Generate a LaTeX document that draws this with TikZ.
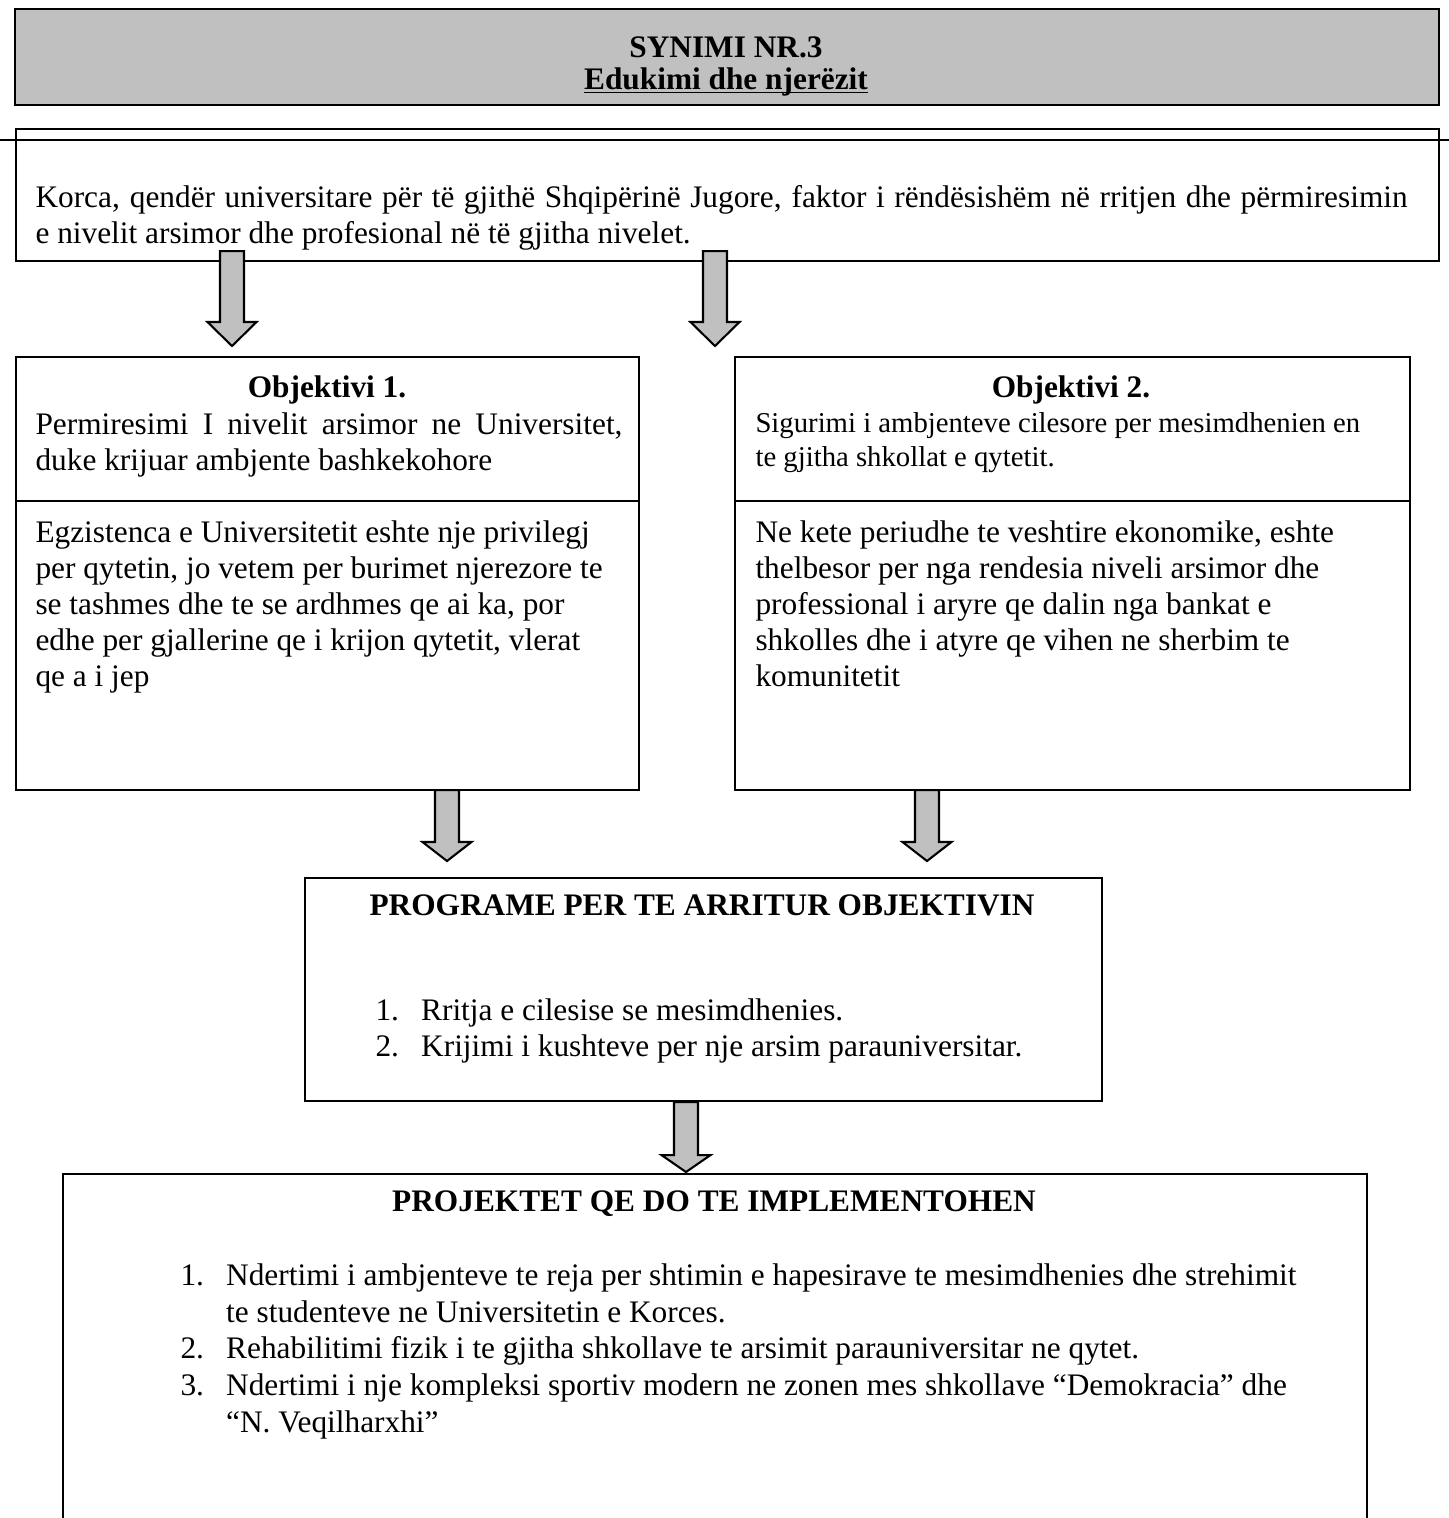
\documentclass[tikz,border=0pt]{standalone}
\usepackage{fontspec}
\setmainfont{Liberation Serif}
\usetikzlibrary{calc,positioning}
\definecolor{boxgray}{HTML}{C0C0C0}
\def\px{0.383pt}
\tikzset{%
  box/.style={draw, line width=0.8pt, inner sep=0pt, anchor=north west},%
  para/.style={inner sep=0pt, anchor=north west, align=left,
    font=\fontsize{12}{13.8}\selectfont},%
  headline/.style={inner sep=0pt, anchor=base,
    font=\fontsize{12}{13.8}\selectfont\bfseries},%
  bigarrow/.style={draw, line width=0.8pt, fill=boxgray, line join=miter}%
}
% block arrow: start, tip, head length
\newcommand\flowarrow[3]{%
  \draw[bigarrow] let \p1=#1, \p2=#2 in
    (\x1-4.6pt,\y1) -- (\x1+4.6pt,\y1) -- (\x1+4.6pt,\y2+#3) -- (\x1+9.4pt,\y2+#3)
    -- (\x1,\y2) -- (\x1-9.4pt,\y2+#3) -- (\x1-4.6pt,\y2+#3) -- cycle;
}
\newcommand\itemno[1]{\makebox[17.5pt][l]{#1}}

\begin{document}
\begin{tikzpicture}[x=0.383pt, y=-0.383pt]
	\useasboundingbox (0,0) rectangle (1449,1518);
	
	%% title banner
	\node[box, fill=boxgray, minimum width=1424*\px, minimum height=96*\px] (banner) at (14,8) {};
	\node[headline] (synimi) at (726,57) {SYNIMI NR.3};
	\node[headline] (theme) at (726,89) {\underline{\smash{Edukimi dhe njerëzit}}};
	
	%% vision
	\node[box, minimum width=1423*\px, minimum height=132*\px] (vision) at (15,128) {};
	\draw[line width=0.8pt] (0,140) -- (1449,140);
	\node[para] (visiontext) at (35,185) {\makebox[525.5pt][s]{Korca, qendër universitare për të gjithë Shqipërinë Jugore, faktor i rëndësishëm në rritjen dhe përmiresimin}\\e nivelit arsimor dhe profesional në të gjitha nivelet.};
	
	%% objective 1
	\node[box, minimum width=623*\px, minimum height=144*\px] (obj1head) at (15,356) {};
	\node[box, minimum width=623*\px, minimum height=289*\px] (obj1body) at (15,500) {};
	\node[headline] (obj1title) at (327,397) {Objektivi 1.};
	\node[para] (obj1aim) at (35,412) {\makebox[224.8pt][s]{Permiresimi I nivelit arsimor ne Universitet,}\\duke krijuar ambjente bashkekohore};
	\node[para] (obj1text) at (35,520) {Egzistenca e Universitetit eshte nje privilegj\\per qytetin, jo vetem per burimet njerezore te\\se tashmes dhe te se ardhmes qe ai ka, por\\edhe per gjallerine qe i krijon qytetit, vlerat\\qe a i jep};
	
	%% objective 2
	\node[box, minimum width=675*\px, minimum height=144*\px] (obj2head) at (734,356) {};
	\node[box, minimum width=675*\px, minimum height=289*\px] (obj2body) at (734,500) {};
	\node[headline] (obj2title) at (1071,397) {Objektivi 2.};
	\node[para, font=\fontsize{11}{13}\selectfont] (obj2aim) at (755,412) {Sigurimi i ambjenteve cilesore per mesimdhenien en\\te gjitha shkollat e qytetit.};
	\node[para] (obj2text) at (755,520) {Ne kete periudhe te veshtire ekonomike, eshte\\thelbesor per nga rendesia niveli arsimor dhe\\professional i aryre qe dalin nga bankat e\\shkolles dhe i atyre qe vihen ne sherbim te\\komunitetit};
	
	%% programs
	\node[box, minimum width=797*\px, minimum height=223*\px] (program) at (304,877) {};
	\node[headline] (progtitle) at (702,915) {PROGRAME PER TE ARRITUR OBJEKTIVIN};
	\node[para] (proglist) at (375,998) {\itemno{1.}Rritja e cilesise se mesimdhenies.\\\itemno{2.}Krijimi i kushteve per nje arsim parauniversitar.};
	
	%% projects (box runs off the page)
	\node[box, minimum width=1304*\px, minimum height=370*\px] (projects) at (62,1173) {};
	\node[headline] (projtitle) at (714,1211) {PROJEKTET QE DO TE IMPLEMENTOHEN};
	\node[para, font=\fontsize{12}{14.1}\selectfont] (projlist) at (180,1263) {\itemno{1.}Ndertimi i ambjenteve te reja per shtimin e hapesirave te mesimdhenies dhe strehimit\\\hspace*{17.5pt}te studenteve ne Universitetin e Korces.\\\itemno{2.}Rehabilitimi fizik i te gjitha shkollave te arsimit parauniversitar ne qytet.\\\itemno{3.}Ndertimi i nje kompleksi sportiv modern ne zonen mes shkollave ``Demokracia'' dhe\\\hspace*{17.5pt}``N. Veqilharxhi''};
	
	%% arrows
	\flowarrow{($(vision.south west)+(217,-11)$)}{($(obj1head.north west)+(217,-10)$)}{9.2pt}
	\flowarrow{($(vision.south west)+(700,-11)$)}{($(obj2head.north west)+(-19,-10)$)}{9.2pt}
	\flowarrow{($(obj1body.south west)+(432,-1)$)}{($(program.north west)+(143,-16)$)}{7.3pt}
	\flowarrow{($(obj2body.south west)+(193,-1)$)}{($(program.north west)+(623,-16)$)}{7.3pt}
	\flowarrow{($(program.south west)+(382,0)$)}{($(projects.north west)+(624,-1)$)}{6.5pt}
\end{tikzpicture}
\end{document}
